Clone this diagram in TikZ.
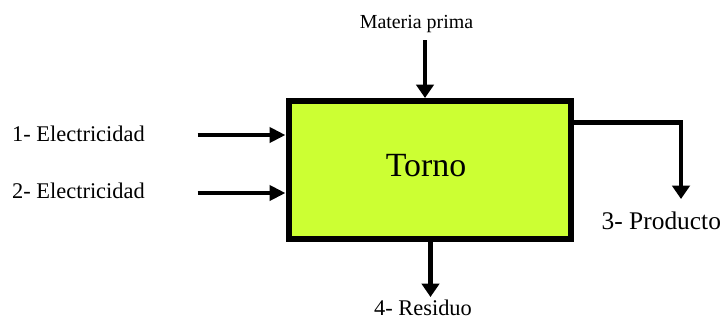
\documentclass[tikz,border=0pt]{standalone}
\usepackage{fontspec}
\setmainfont{Liberation Serif}
\usetikzlibrary{arrows.meta}
\definecolor{boxfill}{RGB}{204,255,51}
\tikzset{
  procbox/.style={draw=black, line width=6bp, fill=boxfill, minimum width=282bp, minimum height=137.7bp, inner sep=0pt},
  harr/.style={line width=4.5bp, -{Triangle[length=16bp,width=15bp]}},
  varr/.style={line width=4.5bp, -{Triangle[length=13.5bp,width=17.5bp]}},
  lbl/.style={inner sep=0pt, anchor=base, text=black}
}
\begin{document}
\begin{tikzpicture}[x=1bp,y=-1bp]
\useasboundingbox (0,0) rectangle (725,320);
\node[procbox] (torno) at (429.5,169.85) {};
\node[lbl, font=\fontsize{34}{40}\selectfont] (tl) at (426,176) {Torno};
\node[lbl, font=\fontsize{20}{24}\selectfont] (mp) at (416.5,28.5) {Materia prima};
\node[lbl, anchor=base west, font=\fontsize{22.5}{27}\selectfont] (l1) at (12,141.5) {1- Electricidad};
\node[lbl, anchor=base west, font=\fontsize{22.5}{27}\selectfont] (l2) at (12,198.5) {2- Electricidad};
\node[lbl, anchor=base west, font=\fontsize{25.5}{30}\selectfont] (l3) at (601.5,229.5) {3- Producto};
\node[lbl, font=\fontsize{22.5}{27}\selectfont] (l4) at (423,315.5) {4- Residuo};
\coordinate (mpS) at (425,40);
\coordinate (e1) at (197.5,135);
\coordinate (e2) at (197.5,193);
\coordinate (r1) at (681,122.5);
\coordinate (p3) at (681,199);
\coordinate (p4) at (430.5,297);
\draw[varr] (mpS) -- (mpS |- torno.north);
\draw[harr] (e1) -- (torno.west |- e1);
\draw[harr] (e2) -- (torno.west |- e2);
\draw[varr, line join=miter] (torno.east |- r1) -- (r1) -- (p3);
\draw[varr] (torno.south -| p4) -- (p4);
\end{tikzpicture}
\end{document}
